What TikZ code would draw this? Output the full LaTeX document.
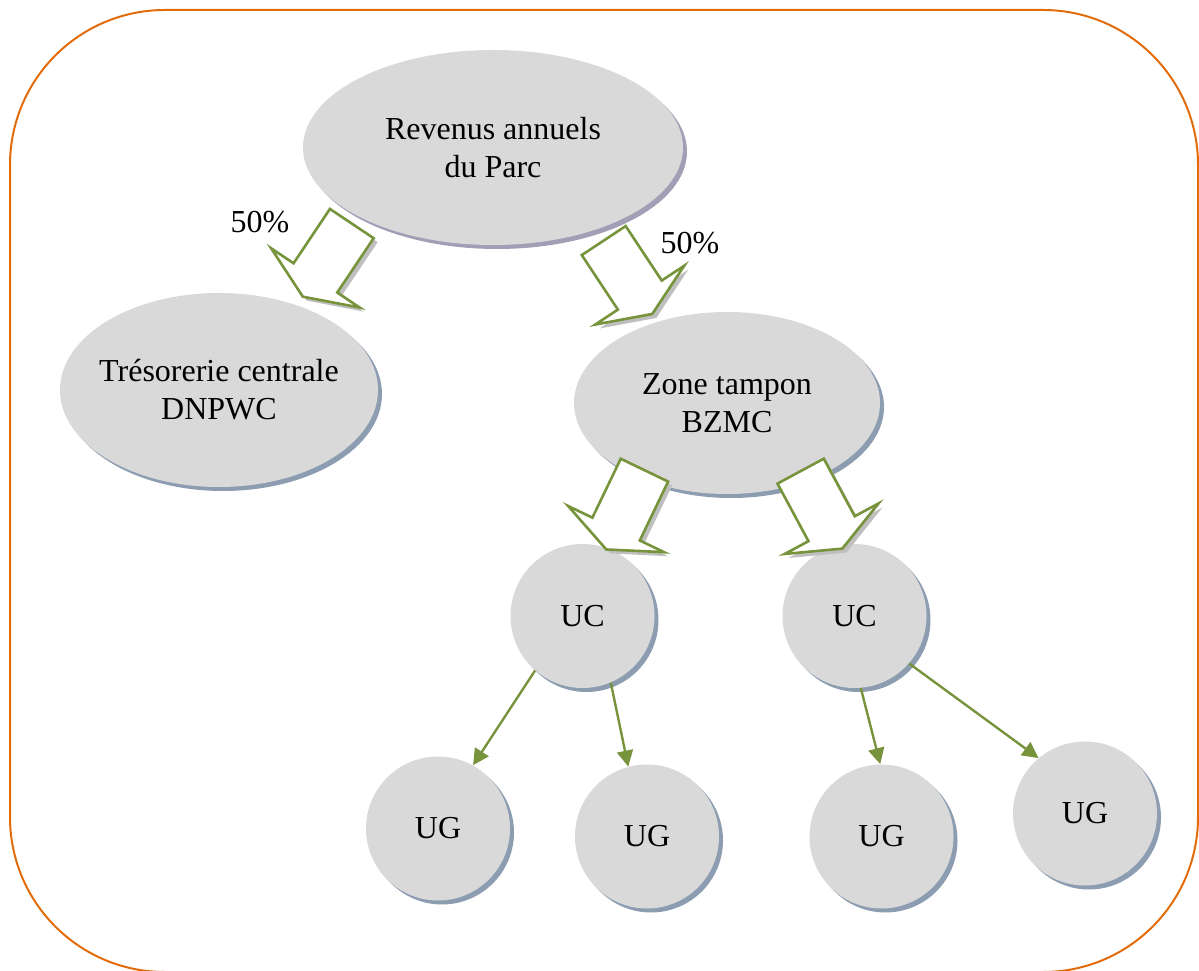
\documentclass[tikz,border=0pt]{standalone}
\usepackage{fontspec}
\setmainfont{Liberation Serif}
\usetikzlibrary{arrows.meta, shapes.geometric, shapes.arrows, shadows}
\definecolor{frameorange}{HTML}{E36C0A}
\definecolor{bubblegray}{HTML}{D9D9D9}
\definecolor{shadowblue}{HTML}{8D9DB1}
\definecolor{shadowmauve}{HTML}{A39DB6}
\definecolor{leafgreen}{HTML}{77933C}
\definecolor{arrowshade}{HTML}{BFBFBF}

\begin{document}
\begin{tikzpicture}[
  x=0.5pt, y=0.5pt,
  bubble/.style={ellipse, fill=bubblegray, inner sep=0pt, align=center,
                 font=\fontsize{16}{19}\selectfont,
                 drop shadow={shadow xshift=2pt, shadow yshift=-2pt, fill=#1, opacity=1}},
  bubble/.default=shadowblue,
  unit/.style={bubble, circle, minimum size=72pt},
  bigarrow/.style={single arrow, draw=leafgreen, line width=1.3pt, fill=white,
                   anchor=tail, inner xsep=0pt, inner ysep=12.5pt, minimum height=44pt, minimum width=52pt,
                   single arrow head extend=13.5pt, single arrow tip angle=134,
                   drop shadow={shadow xshift=2pt, shadow yshift=-2pt, fill=arrowshade, opacity=1}},
  link/.style={-{Triangle[length=8pt,width=8pt]}, line width=1.2pt, color=leafgreen},
  pct/.style={font=\fontsize{16}{19}\selectfont}
]
  \useasboundingbox (0,0) rectangle (1199,970);
  \draw[frameorange, line width=1pt, rounded corners=77.5pt] (10,-2) rectangle (1198,960);

  % ellipses
  \node[bubble=shadowmauve, minimum width=190pt, minimum height=97.5pt] (revenus) at (493,822.5) {Revenus annuels\\du Parc};
  \node[bubble, inner xsep=-6pt, minimum width=159pt, minimum height=97pt] (tresor) at (219,580) {Trésorerie centrale\\DNPWC};
  \node[bubble, minimum width=153pt, minimum height=91pt] (zone) at (727,567) {Zone tampon\\BZMC};

  % units
  \node[unit] (uc1) at (582.5,354) {UC};
  \node[unit] (uc2) at (854.5,354) {UC};
  \node[unit] (ug1) at (438,141.5) {UG};
  \node[unit] (ug2) at (647,133.5) {UG};
  \node[unit] (ug3) at (881.5,133.5) {UG};
  \node[unit] (ug4) at (1085,156.5) {UG};

  % block arrows
  \node[bigarrow, rotate=-123.8] (splitleft) at (352.5,747.5) {};
  \node[bigarrow, rotate=-56.5] (splitright) at (603,730.5) {};
  \node[bigarrow, rotate=-115.7] (toucleft) at (645,501) {};
  \node[bigarrow, rotate=-61.7] (toucright) at (800,500) {};
  \node[pct] (pctleft) at (260,748) {50\%};
  \node[pct] (pctright) at (690,727) {50\%};

  \draw[link] (uc1.-131) -- (ug1.61);
  \draw[link] (uc1.-67) -- (ug2.105);
  \draw[link] (uc2.-85) -- (ug3.91);
  \draw[link] (uc2.-41) -- (ug4.130);
\end{tikzpicture}
\end{document}
